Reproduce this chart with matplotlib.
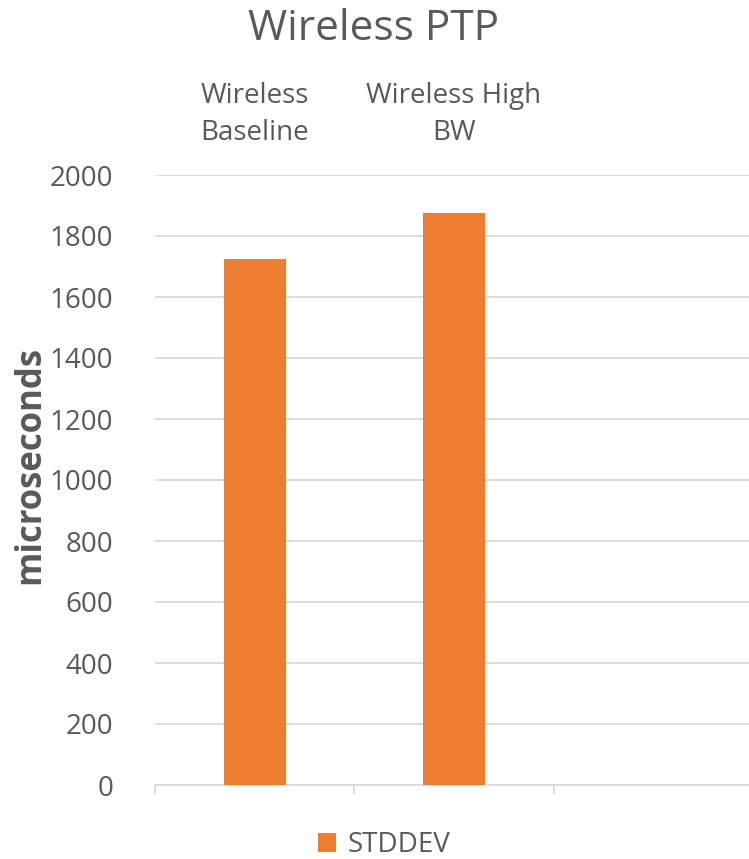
import numpy as np
import matplotlib.pyplot as plt

plt.rcParams['font.family'] = ['Open Sans', 'DejaVu Sans']

categories = ['Wireless\nBaseline', 'Wireless High\nBW', '']
stddev = [1725, 1875, np.nan]
yticks = [0, 200, 400, 600, 800, 1000, 1200, 1400, 1600, 1800, 2000]

grey = '#595959'
orange = '#ED7D31'

fig = plt.figure(figsize=(7.49, 8.59), dpi=100)
ax = fig.add_axes([155 / 749, 74 / 859, 598 / 749, 610 / 859])

x = np.arange(len(categories))
ax.bar(x, stddev, width=0.31, color=orange, label='STDDEV', zorder=3)

ax.set_xlim(-0.5, len(categories) - 0.5)
ax.set_ylim(0, 2000)
ax.set_yticks(yticks)
ax.yaxis.grid(True, color='#D9D9D9', linewidth=1.3, zorder=0)
ax.tick_params(axis='y', length=0, pad=30, labelsize=20, labelcolor=grey)

# category names sit above the plot
ax.xaxis.tick_top()
ax.set_xticks(x)
ax.set_xticklabels(categories, fontsize=20, color=grey, linespacing=1.42)
ax.tick_params(axis='x', length=0, pad=20)

# small separators under the baseline
for b in np.arange(len(categories) + 1) - 0.5:
    ax.plot([b, b], [0, -25], color='#D9D9D9', linewidth=1.3, clip_on=False)

for s in ['top', 'right', 'left']:
    ax.spines[s].set_visible(False)
ax.spines['bottom'].set_color('#D9D9D9')
ax.spines['bottom'].set_linewidth(1.3)

ax.set_ylabel('microseconds', fontsize=25, fontweight='bold', color=grey, va='center')
ax.yaxis.set_label_coords(-125 / 598, (785 - 465) / 610)
fig.text(374 / 749, 1 - 29 / 859, 'Wireless PTP', ha='center', va='center', fontsize=30.5, color=grey)

fig.legend(loc='center', bbox_to_anchor=(384 / 749, 1 - 845 / 859), frameon=False,
           fontsize=20, labelcolor=grey, handlelength=0.65, handleheight=0.65, handletextpad=0.4)

fig.savefig('out.png', dpi=100)
